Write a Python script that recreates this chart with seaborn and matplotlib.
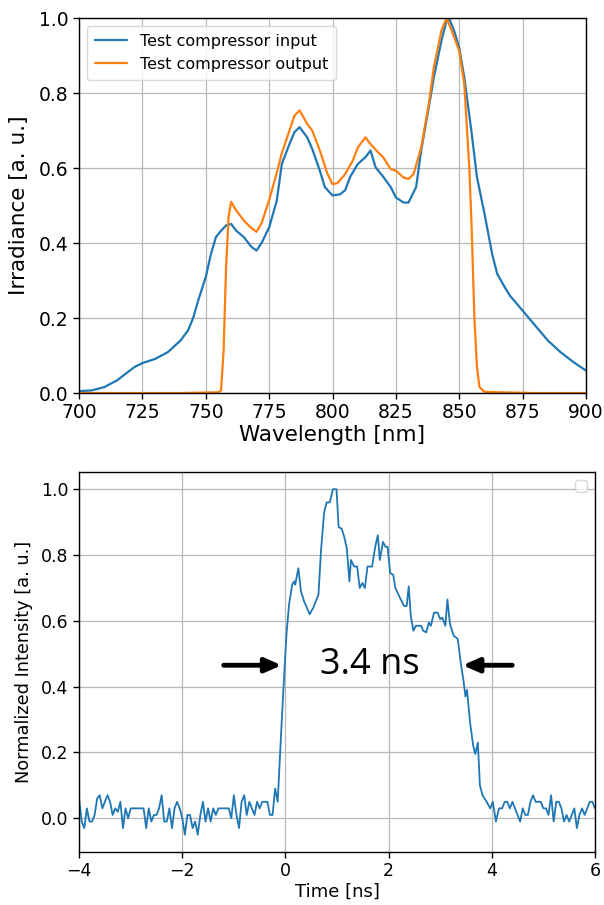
import numpy as np
import pandas as pd
import matplotlib
matplotlib.use("Agg")
import matplotlib.pyplot as plt
import seaborn as sns

# ---------------- data: top panel (spectra) ----------------
wl_in = [700, 705, 710, 715, 720, 722, 725, 730, 735, 740, 743, 745, 747, 750, 752, 754, 756, 758,
         760, 762, 765, 768, 770, 772, 775, 778, 780, 783, 785, 787, 790, 792, 795, 797, 800, 803,
         805, 807, 810, 813, 815, 817, 820, 823, 825, 828, 830, 833, 835, 838, 840, 843, 845, 846,
         848, 850, 852, 855, 857, 860, 863, 865, 868, 870, 875, 880, 885, 890, 895, 900]
irr_in = [0.005, 0.007, 0.016, 0.034, 0.060, 0.070, 0.080, 0.091, 0.109, 0.140, 0.167, 0.200, 0.247,
          0.310, 0.370, 0.416, 0.433, 0.447, 0.451, 0.433, 0.416, 0.390, 0.380, 0.400, 0.442, 0.513,
          0.611, 0.664, 0.696, 0.709, 0.682, 0.651, 0.593, 0.549, 0.527, 0.530, 0.541, 0.577, 0.611,
          0.629, 0.647, 0.602, 0.577, 0.549, 0.522, 0.508, 0.508, 0.549, 0.647, 0.762, 0.842, 0.940,
          0.993, 1.000, 0.966, 0.922, 0.842, 0.689, 0.576, 0.478, 0.371, 0.318, 0.282, 0.260, 0.220,
          0.180, 0.140, 0.109, 0.083, 0.060]

wl_out = [700, 720, 740, 755, 756, 757, 758, 759, 760, 762, 765, 768, 770, 772, 775, 778, 780, 783,
          785, 787, 790, 792, 795, 798, 800, 802, 805, 808, 810, 813, 815, 818, 820, 823, 825, 828,
          830, 832, 835, 838, 840, 843, 845, 847, 850, 852, 854, 855, 856, 857, 858, 860, 880, 900]
irr_out = [0.0, 0.0, 0.0, 0.002, 0.007, 0.110, 0.336, 0.470, 0.510, 0.487, 0.460, 0.440, 0.430,
           0.453, 0.515, 0.587, 0.640, 0.700, 0.740, 0.754, 0.718, 0.700, 0.647, 0.585, 0.557,
           0.560, 0.584, 0.620, 0.655, 0.682, 0.664, 0.642, 0.629, 0.597, 0.593, 0.575, 0.571,
           0.584, 0.655, 0.771, 0.869, 0.967, 1.000, 0.967, 0.913, 0.824, 0.600, 0.425, 0.200,
           0.070, 0.016, 0.003, 0.0, 0.0]

series_labels = ["Test compressor input", "Test compressor output"]

# ---------------- data: bottom panel (pulse) ----------------
t_ns = [-4.00, -3.95, -3.90, -3.85, -3.80, -3.75, -3.70, -3.65, -3.60, -3.55, -3.50, -3.45, -3.40,
        -3.35, -3.30, -3.25, -3.20, -3.15, -3.10, -3.05, -3.00, -2.95, -2.90, -2.85, -2.80, -2.75,
        -2.70, -2.65, -2.60, -2.55, -2.50, -2.45, -2.40, -2.35, -2.30, -2.25, -2.20, -2.15, -2.10,
        -2.05, -2.00, -1.95, -1.90, -1.85, -1.80, -1.75, -1.70, -1.65, -1.60, -1.55, -1.50, -1.45,
        -1.40, -1.35, -1.30, -1.25, -1.20, -1.15, -1.10, -1.05, -1.00, -0.95, -0.90, -0.85, -0.80,
        -0.75, -0.70, -0.65, -0.60, -0.55, -0.50, -0.45, -0.40, -0.35, -0.30, -0.25, -0.20, -0.15,
        -0.09, -0.04, 0.02, 0.07, 0.13, 0.17, 0.19, 0.25, 0.30, 0.36, 0.47, 0.54, 0.64, 0.69, 0.75,
        0.80, 0.86, 0.92, 0.99, 1.03, 1.09, 1.14, 1.19, 1.24, 1.27, 1.33, 1.39, 1.44, 1.49, 1.54,
        1.59, 1.68, 1.74, 1.79, 1.83, 1.89, 1.94, 1.98, 2.03, 2.09, 2.13, 2.22, 2.30, 2.35, 2.39,
        2.43, 2.48, 2.53, 2.63, 2.67, 2.73, 2.78, 2.82, 2.88, 2.95, 3.00, 3.04, 3.10, 3.14, 3.19,
        3.26, 3.34, 3.40, 3.45, 3.49, 3.52, 3.58, 3.64, 3.68, 3.73, 3.77, 3.82, 3.90, 3.97, 4.02,
        4.08, 4.14, 4.20, 4.25, 4.30, 4.35, 4.40, 4.45, 4.50, 4.55, 4.60, 4.65, 4.70, 4.75, 4.80,
        4.85, 4.90, 4.95, 5.00, 5.05, 5.10, 5.15, 5.20, 5.25, 5.30, 5.35, 5.40, 5.45, 5.50, 5.55,
        5.60, 5.65, 5.70, 5.75, 5.80, 5.85, 5.90, 5.95, 6.00]
intensity = [0.06, -0.01, -0.03, 0.03, -0.01, -0.01, 0.01, 0.06, 0.07, 0.03, 0.05, 0.07, 0.05,
             0.01, 0.03, 0.02, 0.05, -0.03, 0.03, 0.00, 0.03, 0.03, 0.03, 0.03, 0.03, 0.03,
             -0.03, 0.03, -0.01, 0.01, 0.01, 0.03, 0.07, -0.01, -0.01, 0.03, -0.03, 0.03, 0.05,
             0.03, 0.00, -0.05, 0.01, 0.01, -0.03, -0.01, -0.05, 0.01, 0.05, -0.01, 0.03, -0.01,
             0.03, 0.01, 0.03, 0.03, 0.03, 0.03, 0.03, 0.00, 0.07, 0.01, -0.03, 0.05, 0.07,
             0.01, 0.05, 0.03, 0.01, 0.05, 0.03, 0.05, 0.05, 0.05, 0.01, 0.01, 0.09, 0.05,
             0.24, 0.39, 0.56, 0.65, 0.71, 0.72, 0.71, 0.76, 0.69, 0.66, 0.62, 0.64, 0.68, 0.815, 0.93,
             0.96, 0.96, 1.00, 1.00, 0.885, 0.88, 0.855, 0.82, 0.72, 0.785, 0.765, 0.765, 0.70, 0.715, 0.70,
             0.765, 0.765, 0.825, 0.86, 0.785, 0.84, 0.825, 0.825, 0.745, 0.74, 0.70, 0.67, 0.645, 0.645, 0.705,
             0.615, 0.57, 0.585, 0.585, 0.57, 0.565, 0.595, 0.585, 0.625, 0.625, 0.605, 0.61, 0.585, 0.665, 0.59,
             0.555, 0.545, 0.47, 0.42, 0.37, 0.39, 0.29, 0.22, 0.195, 0.23, 0.10, 0.07, 0.05, 0.03, 0.05,
             -0.01, 0.03, 0.03, 0.05, 0.05, 0.03, 0.05, 0.03, 0.01, -0.01, 0.03, 0.01, 0.01, 0.05, 0.07,
             0.05, 0.05, 0.05, 0.03, 0.03, 0.01, 0.07, -0.01, 0.05, 0.05, 0.03, -0.01, 0.01, -0.01, 0.01,
             0.03, -0.03, 0.01, 0.03, 0.01, 0.03, 0.05, 0.05, 0.03]

fwhm_text = "3.4 ns"

# ---------------- figure ----------------
sns.set_theme(style="ticks")
plt.rcParams["font.family"] = ["DejaVu Sans"]
plt.rcParams.update({"text.color": "black", "axes.labelcolor": "black",
                     "xtick.color": "black", "ytick.color": "black",
                     "axes.edgecolor": "black"})

fig = plt.figure(figsize=(6.04, 9.05), dpi=100)

# top panel
ax1 = fig.add_axes([0.131, 0.5657, 0.839, 0.4143])
df_top = pd.concat([
    pd.DataFrame({"wl": wl_in, "irr": irr_in, "series": series_labels[0]}),
    pd.DataFrame({"wl": wl_out, "irr": irr_out, "series": series_labels[1]}),
])
sns.lineplot(data=df_top, x="wl", y="irr", hue="series", hue_order=series_labels,
             palette=["#1f77b4", "#ff7f0e"], estimator=None, sort=False, lw=1.6, ax=ax1)
ax1.set_xlim(700, 900)
ax1.set_ylim(0, 1.0)
ax1.set_xticks([700, 725, 750, 775, 800, 825, 850, 875, 900])
ax1.set_yticks([0.0, 0.2, 0.4, 0.6, 0.8, 1.0])
ax1.grid(True, color="#b8b8b8", lw=0.9)
ax1.set_xlabel("Wavelength [nm]", fontsize=15.5, labelpad=2)
ax1.set_ylabel("Irradiance [a. u.]", fontsize=15.5, labelpad=7)
ax1.tick_params(labelsize=13.5, length=4, width=1, color="black", labelcolor="black")
leg = ax1.legend(loc="upper left", fontsize=11.5, frameon=True, title=None,
                 handlelength=2.0, borderpad=0.5, labelspacing=0.5)
leg.get_frame().set_edgecolor("#d0d0d0")
for txt in leg.get_texts():
    txt.set_color("black")
for sp in ax1.spines.values():
    sp.set_color("black")
    sp.set_linewidth(1.0)

# bottom panel
ax2 = fig.add_axes([0.131, 0.0586, 0.854, 0.4199])
df_bot = pd.DataFrame({"t": t_ns, "I": intensity})
sns.lineplot(data=df_bot, x="t", y="I", color="#1f77b4", estimator=None, sort=False, lw=1.3, ax=ax2)
ax2.set_xlim(-4, 6)
ax2.set_ylim(-0.1025, 1.0525)
ax2.set_xticks([-4, -2, 0, 2, 4, 6])
ax2.set_xticklabels(["\u22124", "\u22122", "0", "2", "4", "6"])
ax2.set_yticks([0.0, 0.2, 0.4, 0.6, 0.8, 1.0])
ax2.grid(True, color="#b8b8b8", lw=0.9)
ax2.set_xlabel("Time [ns]", fontsize=13, labelpad=2)
ax2.set_ylabel("Normalized Intensity [a. u.]", fontsize=12.8, labelpad=6)
ax2.tick_params(labelsize=12.5, length=4, width=1, color="black", labelcolor="black")
leg2 = ax2.legend(handles=[], labels=[], loc="upper right", frameon=True)
leg2.get_frame().set_edgecolor("#d0d0d0")
for sp in ax2.spines.values():
    sp.set_color("black")
    sp.set_linewidth(1.0)

ax2.annotate("", xy=(-0.02, 0.465), xytext=(-1.25, 0.465),
             arrowprops=dict(arrowstyle="-|>,head_length=0.8,head_width=0.35", color="black", lw=3.5))
ax2.annotate("", xy=(3.38, 0.465), xytext=(4.45, 0.465),
             arrowprops=dict(arrowstyle="-|>,head_length=0.8,head_width=0.35", color="black", lw=3.5))
ax2.text(1.64, 0.465, fwhm_text, ha="center", va="center", fontsize=26,
         family=["Open Sans", "DejaVu Sans"], color="black")

fig.savefig("out.png", dpi=100)
